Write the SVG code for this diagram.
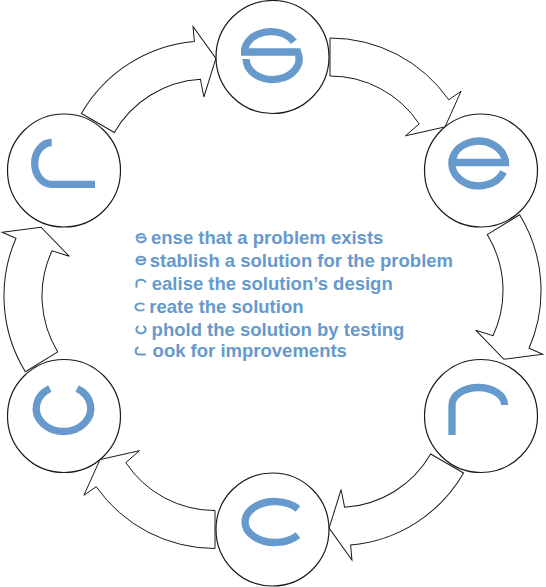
<svg xmlns="http://www.w3.org/2000/svg" width="546" height="587" viewBox="0 0 546 587">
<style>
.arrow{fill:#fff;stroke:#1a1a1a;stroke-width:1}
.node{fill:#fff;stroke:#1a1a1a;stroke-width:1.2}
.g{fill:none;stroke:#6699cc;stroke-width:7.3;stroke-linecap:butt}
.gs{fill:none;stroke:#6699cc;stroke-width:12;stroke-linecap:butt}
.t{font-family:"Liberation Sans",Arial,sans-serif;font-weight:bold;font-size:18.5px;fill:#6699cc}
</style>
<defs>
<path id="arr" d="M0,-145 A145,145 0 0 1 118.8,-83.2 L131.1,-91.8 L115,-56.1 L75.5,-47.2 L89.2,-59.1 A107,107 0 0 0 0,-107 Z"/>
<path id="gS" d="M22.9,-10.25 A26.5,20.5 0 0 0 -26.5,0 M-30,0 H29.7 M26.5,0 A26.5,20.5 0 1 1 -24.9,7"/>
<path id="gE" d="M-30.3,-1 H30.3 M26.8,0 A26.8,22.3 0 1 0 24.85,8.35"/>
<path id="gR" d="M-26.3,25 V-5 A26.3,17.5 0 0 1 26.3,-5"/>
<path id="gC" d="M22.98,-13.18 A30,20.5 0 1 0 22.98,13.18"/>
<path id="gU" d="M-13.65,-19.92 A27.3,23 0 1 0 13.65,-19.92"/>
<path id="gL" d="M-11.3,-20.9 A17,20.9 0 0 0 -11.3,20.9 H32"/>
</defs>
<g id="connectors">
<use href="#arr" class="arrow" transform="translate(207,186) rotate(-60)"/>
<use href="#arr" class="arrow" transform="translate(330,183)"/>
<use href="#arr" class="arrow" transform="translate(396,290.5) rotate(58.5)"/>
<use href="#arr" class="arrow" transform="translate(338,400.5) rotate(120)"/>
<use href="#arr" class="arrow" transform="translate(215,403.5) rotate(180)"/>
<use href="#arr" class="arrow" transform="translate(149,296) rotate(238.5)"/>
</g>
<g id="node-sense">
<circle class="node" cx="272.5" cy="57" r="56.5"/>
<use href="#gS" class="g" transform="translate(271,52)"/>
</g>
<g id="node-establish">
<circle class="node" cx="481" cy="170.5" r="56.5"/>
<use href="#gE" class="g" transform="translate(478.7,163.5)"/>
</g>
<g id="node-realise">
<circle class="node" cx="481" cy="416" r="56.5"/>
<use href="#gR" class="g" transform="translate(478.3,410)"/>
</g>
<g id="node-create">
<circle class="node" cx="272.5" cy="529.5" r="56.5"/>
<use href="#gC" class="g" transform="translate(275,522)"/>
</g>
<g id="node-uphold">
<circle class="node" cx="64" cy="416" r="56.5"/>
<use href="#gU" class="g" transform="translate(63.5,408.5)"/>
</g>
<g id="node-look">
<circle class="node" cx="64" cy="170.5" r="56.5"/>
<use href="#gL" class="g" transform="translate(63,163.4)"/>
</g>
<g id="legend">
<use href="#gS" class="gs" transform="translate(141,237.5) scale(0.17)"/>
<text class="t" x="151" y="243.5">ense that a problem exists</text>
<use href="#gE" class="gs" transform="translate(141,260.5) scale(0.17)"/>
<text class="t" x="149.8" y="266.5">stablish a solution for the problem</text>
<use href="#gR" class="gs" transform="translate(141,283.5) scale(0.17)"/>
<text class="t" x="151.8" y="289.5">ealise the solution’s design</text>
<use href="#gC" class="gs" transform="translate(140.5,307) scale(0.17)"/>
<text class="t" x="149.3" y="313">reate the solution</text>
<use href="#gU" class="gs" transform="translate(141,329.5) scale(0.17)"/>
<text class="t" x="151.6" y="335.5">phold the solution by testing</text>
<use href="#gL" class="gs" transform="translate(140.5,351) scale(0.17)"/>
<text class="t" x="152.6" y="357">ook for improvements</text>
</g>
</svg>
